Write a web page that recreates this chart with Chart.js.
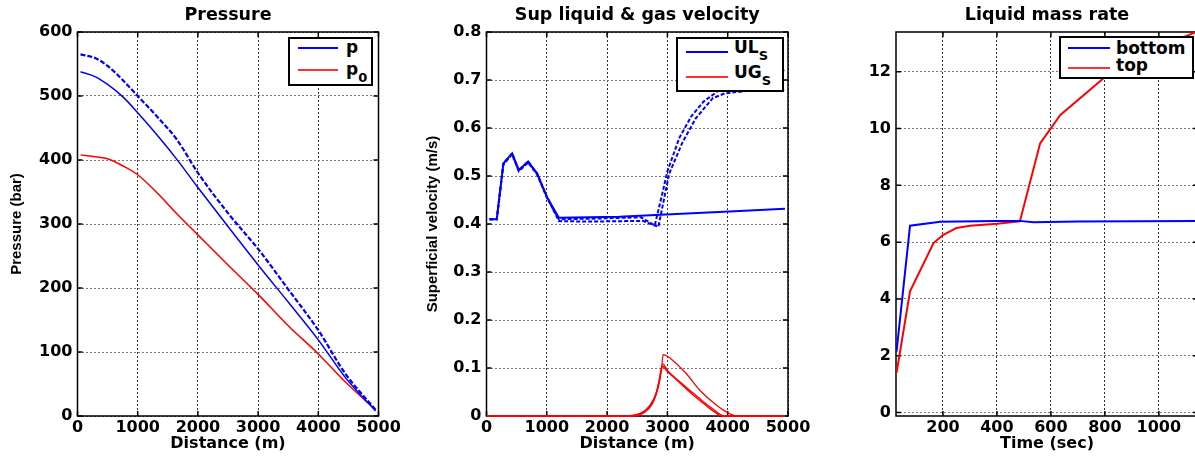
<!DOCTYPE html>
<html lang="en">
<head>
  <meta charset="UTF-8" />
  <title>Pressure, velocity and liquid mass rate</title>
  <script src="https://cdn.jsdelivr.net/npm/chart.js"></script>
  <style>
    body { margin: 0; background: #fff; overflow: hidden; }
    #wrap { position: relative; width: 1195px; height: 456px; overflow: hidden; background: #fff; }
    canvas { position: absolute; top: 0; }
    .legend { position: absolute; box-sizing: border-box; border: 2px solid #000; background: #fff; }
    .swatch { position: absolute; height: 2px; }
    .ltext { position: absolute; font: bold 17px "DejaVu Sans", sans-serif; line-height: 17px; color: #000; white-space: nowrap; }
    .ltext sub { font-size: 13px; line-height: 0; vertical-align: -7px; }
  </style>
</head>
<body>
  <div id="wrap">
    <canvas id="pressure" width="410" height="456" style="left:0"></canvas>
    <canvas id="velocity" width="420" height="456" style="left:400px"></canvas>
    <canvas id="massrate" width="420" height="456" style="left:800px"></canvas>

    <div class="legend" style="left:288px;top:37px;width:85px;height:49px"></div>
    <div class="swatch" style="left:298px;top:47px;width:40px;background:#0000ff"></div>
    <div class="ltext" style="left:346px;top:39px">p</div>
    <div class="swatch" style="left:298px;top:69px;width:40px;background:#ff3030"></div>
    <div class="ltext" style="left:346px;top:61px">p<sub>0</sub></div>

    <div class="legend" style="left:676px;top:37px;width:108px;height:55px"></div>
    <div class="swatch" style="left:686px;top:51px;width:42px;background:#0000ff"></div>
    <div class="ltext" style="left:734px;top:39px">UL<sub>S</sub></div>
    <div class="swatch" style="left:686px;top:76px;width:42px;background:#ff3030"></div>
    <div class="ltext" style="left:734px;top:64px">UG<sub>S</sub></div>

    <div class="legend" style="left:1059px;top:36px;width:135px;height:43px"></div>
    <div class="swatch" style="left:1068px;top:47px;width:42px;background:#0000ff"></div>
    <div class="ltext" style="left:1116px;top:40px">bottom</div>
    <div class="swatch" style="left:1068px;top:67px;width:42px;background:#ff3030"></div>
    <div class="ltext" style="left:1116px;top:57px">top</div>
  </div>

  <script>
    const FONT = '"DejaVu Sans", sans-serif';
    const NARROW = '"Liberation Sans", Arial, sans-serif';

    // Pressure vs distance
    const pressureX = [50, 300, 500, 750, 1000, 1350, 1650, 2000, 2500, 3000, 3500, 4000, 4450, 4950];
    const pDashed   = [565, 559, 547, 525, 500, 465, 432, 380, 317, 261, 198, 134, 66, 10];
    const pSolid    = [538, 530, 518, 499, 474, 436, 401, 357, 296, 236, 178, 119, 60, 8];
    const p0        = [408, 405, 402, 391, 377, 346, 316, 283, 236, 190, 141, 97, 53, 10];
    const pressureXTicks = [0, 1000, 2000, 3000, 4000, 5000];
    const pressureYTicks = [0, 100, 200, 300, 400, 500, 600];

    // Superficial velocities vs distance
    const ulX1 = [50, 170, 280, 425, 535, 690, 840, 1000, 1200, 1700, 2200, 2800, 3500, 4200, 4950];
    const ulY1 = [0.41, 0.41, 0.526, 0.547, 0.512, 0.53, 0.505, 0.457, 0.413, 0.414, 0.415, 0.419, 0.423, 0.427, 0.432];
    const ulX2 = [50, 170, 280, 425, 535, 690, 840, 1000, 1200, 1700, 2300, 2600, 2850, 3030, 3250, 3470, 3750, 3950, 4300, 4950];
    const ulY2 = [0.41, 0.41, 0.526, 0.547, 0.512, 0.53, 0.505, 0.457, 0.406, 0.405, 0.406, 0.406, 0.394, 0.505, 0.57, 0.62, 0.662, 0.672, 0.677, 0.68];
    const ulX3 = [50, 170, 280, 425, 535, 690, 840, 1000, 1200, 1700, 2300, 2560, 2790, 2900, 3000, 3200, 3400, 3600, 3850, 4300, 4950];
    const ulY3 = [0.41, 0.41, 0.524, 0.545, 0.51, 0.528, 0.503, 0.455, 0.41, 0.411, 0.413, 0.414, 0.397, 0.455, 0.51, 0.58, 0.625, 0.655, 0.678, 0.70, 0.72];
    const ugX1 = [0, 2300, 2500, 2650, 2780, 2860, 2910, 3000, 3200, 3400, 3600, 3700, 3800, 3900, 4950];
    const ugY1 = [0, 0, 0.003, 0.013, 0.035, 0.07, 0.104, 0.093, 0.07, 0.047, 0.026, 0.016, 0.007, 0, 0];
    const ugX2 = [1650, 2450, 2600, 2750, 2850, 2900, 2930, 3050, 3300, 3550, 3800, 4000, 4150, 4950];
    const ugY2 = [0, 0, 0.006, 0.025, 0.06, 0.095, 0.128, 0.12, 0.09, 0.052, 0.024, 0.007, 0, 0];
    const ugX3 = [0, 2350, 2550, 2700, 2820, 2890, 2930, 3000, 3200, 3500, 3750, 3950, 4950];
    const ugY3 = [0, 0, 0.005, 0.02, 0.05, 0.09, 0.108, 0.095, 0.072, 0.04, 0.015, 0, 0];
    const velXTicks = [0, 1000, 2000, 3000, 4000, 5000];
    const velYTicks = [0, 0.1, 0.2, 0.3, 0.4, 0.5, 0.6, 0.7, 0.8];

    // Liquid mass rate vs time
    const timeBottom = [28, 78, 190, 400, 485, 535, 700, 1150];
    const rateBottom = [2.15, 6.58, 6.72, 6.75, 6.75, 6.7, 6.73, 6.75];
    const timeTop = [28, 78, 165, 200, 250, 300, 400, 485, 560, 635, 795, 900, 1000, 1150];
    const rateTop = [1.4, 4.27, 5.97, 6.25, 6.5, 6.58, 6.65, 6.73, 9.48, 10.48, 11.77, 12.4, 12.85, 13.45];
    const rateXTicks = [200, 400, 600, 800, 1000];
    const rateYTicks = [0, 2, 4, 6, 8, 10, 12];

    function pts(xs, ys) {
      return xs.map((x, i) => ({ x: x, y: ys[i] }));
    }

    // matlab style box with inward ticks on all four sides, under the curves
    const boxPlugin = {
      id: 'box',
      beforeDatasetsDraw(chart) {
        const { ctx, chartArea: a, scales } = chart;
        ctx.save();
        ctx.strokeStyle = '#000';
        ctx.lineWidth = 1.5;
        ctx.strokeRect(a.left, a.top, a.right - a.left, a.bottom - a.top);
        ctx.beginPath();
        scales.x.ticks.forEach(t => {
          const px = scales.x.getPixelForValue(t.value);
          ctx.moveTo(px, a.bottom); ctx.lineTo(px, a.bottom - 5);
          ctx.moveTo(px, a.top); ctx.lineTo(px, a.top + 5);
        });
        scales.y.ticks.forEach(t => {
          const py = scales.y.getPixelForValue(t.value);
          ctx.moveTo(a.left, py); ctx.lineTo(a.left + 5, py);
          ctx.moveTo(a.right, py); ctx.lineTo(a.right - 5, py);
        });
        ctx.stroke();
        ctx.restore();
      }
    };

    function makeChart(id, o) {
      return new Chart(document.getElementById(id), {
        type: 'line',
        data: { datasets: o.datasets },
        options: {
          responsive: false,
          animation: false,
          devicePixelRatio: 1,
          layout: { padding: { left: 0, right: o.padRight, top: 0, bottom: 0 } },
          elements: { point: { radius: 0 } },
          plugins: {
            legend: { display: false },
            tooltip: { enabled: false },
            title: {
              display: true, text: o.title, color: '#000', fullSize: false,
              font: { family: FONT, size: 17.5, weight: 'bold' },
              padding: { top: 5, bottom: 6 }
            }
          },
          scales: {
            x: {
              type: 'linear', min: o.xMin, max: o.xMax,
              afterFit: s => { s.height = 40; },
              afterBuildTicks: s => { s.ticks = o.xTicks.map(v => ({ value: v })); },
              grid: { color: '#333', drawTicks: false },
              border: { display: false, dash: [2, 2] },
              ticks: {
                color: '#000', padding: 2, autoSkip: false, maxRotation: 0,
                font: { family: FONT, size: 16, weight: 'bold' },
                callback: v => String(v)
              },
              title: {
                display: true, text: o.xTitle, color: '#000',
                font: { family: FONT, size: 16, weight: 'bold' },
                padding: { top: 0, bottom: 3 }
              }
            },
            y: {
              min: o.yMin, max: o.yMax,
              afterFit: s => { s.width = o.yWidth; },
              afterBuildTicks: s => { s.ticks = o.yTicks.map(v => ({ value: v })); },
              grid: { color: '#777', drawTicks: false },
              border: { display: false, dash: [2, 2] },
              ticks: {
                color: '#000', padding: 5, autoSkip: false,
                font: { family: FONT, size: 16, weight: 'bold' },
                callback: o.yFmt || (v => String(v))
              },
              title: {
                display: !!o.yTitle, text: o.yTitle || '', color: '#000',
                font: { family: NARROW, size: 15, weight: 'bold' },
                padding: { top: o.yTitlePad || 0, bottom: 0 }
              }
            }
          }
        },
        plugins: [boxPlugin]
      });
    }

    const BLUE = '#0000ff';
    const RED = '#ff0000';
    // let the zero baseline show its full width over the bottom axis
    const BASE_CLIP = { left: 0, top: 0, right: 0, bottom: 2 };

    makeChart('pressure', {
      title: 'Pressure', xTitle: 'Distance (m)', yTitle: 'Pressure (bar)', yTitlePad: 8,
      xMin: 0, xMax: 5000, yMin: 0, yMax: 600,
      xTicks: pressureXTicks, yTicks: pressureYTicks,
      yWidth: 77.5, padRight: 31.5,
      datasets: [
        { data: pts(pressureX, pDashed), borderColor: BLUE, borderWidth: 2.2, borderDash: [5, 2], cubicInterpolationMode: 'monotone' },
        { data: pts(pressureX, pSolid), borderColor: BLUE, borderWidth: 1.5, cubicInterpolationMode: 'monotone' },
        { data: pts(pressureX, p0), borderColor: RED, borderWidth: 1.5, cubicInterpolationMode: 'monotone' }
      ]
    });

    makeChart('velocity', {
      title: 'Sup liquid & gas velocity', xTitle: 'Distance (m)', yTitle: 'Superficial velocity (m/s)', yTitlePad: 24,
      xMin: 0, xMax: 5000, yMin: 0, yMax: 0.8,
      xTicks: velXTicks, yTicks: velYTicks,
      yWidth: 86.5, padRight: 32,
      yFmt: v => (v === 0 ? '0' : v.toFixed(1)),
      datasets: [
        { data: pts(ulX1, ulY1), borderColor: BLUE, borderWidth: 2 },
        { data: pts(ulX2, ulY2), borderColor: BLUE, borderWidth: 2, borderDash: [4, 2] },
        { data: pts(ulX3, ulY3), borderColor: BLUE, borderWidth: 2, borderDash: [4, 2] },
        { data: pts(ugX1, ugY1), borderColor: RED, borderWidth: 1.5, clip: BASE_CLIP, cubicInterpolationMode: 'monotone' },
        { data: pts(ugX2, ugY2), borderColor: RED, borderWidth: 1.3, clip: BASE_CLIP, cubicInterpolationMode: 'monotone' },
        { data: pts(ugX3, ugY3), borderColor: RED, borderWidth: 1.3, clip: BASE_CLIP, cubicInterpolationMode: 'monotone' }
      ]
    });

    makeChart('massrate', {
      title: 'Liquid mass rate', xTitle: 'Time (sec)',
      xMin: 26, xMax: 1145, yMin: -0.12, yMax: 13.4,
      xTicks: rateXTicks, yTicks: rateYTicks,
      yWidth: 96, padRight: 22,
      datasets: [
        { data: pts(timeBottom, rateBottom), borderColor: BLUE, borderWidth: 2 },
        { data: pts(timeTop, rateTop), borderColor: RED, borderWidth: 2 }
      ]
    });
  </script>
</body>
</html>
